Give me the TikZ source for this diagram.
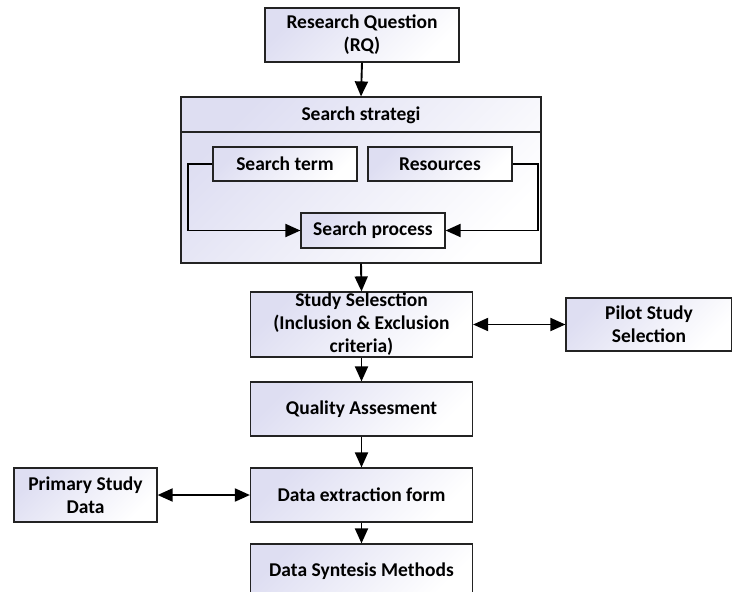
\documentclass[tikz,border=0pt]{standalone}
\usepackage{fontspec}
\setmainfont{Carlito}
\usetikzlibrary{arrows.meta}
\definecolor{lav}{RGB}{222,222,242}
\definecolor{edge}{RGB}{35,35,35}
\tikzset{
  box/.style={draw=edge, line width=1.2pt, top color=lav, bottom color=white, shading angle=45,
    inner sep=0pt, align=center, font=\fontsize{19.5}{23}\selectfont\bfseries},
  tip/.tip={Triangle[length=15pt,width=13pt]},
  arr/.style={draw=black, line width=1.9pt, -tip},
  darr/.style={draw=black, line width=1.9pt, tip-tip},
  lbl/.style={inner sep=0pt, align=center, font=\fontsize{19.5}{23}\selectfont\bfseries}
}
\begin{document}
\begin{tikzpicture}[x=1pt,y=-1pt]
\useasboundingbox (0,0) rectangle (732,592);
\fill[white] (0,0) rectangle (732,592);
% nodes
\node[box, minimum width=194pt, minimum height=54pt] (rq) at (362,35) {Research Question\\(RQ)};
\node[box, minimum width=360pt, minimum height=166pt] (outer) at (361,180) {};
\coordinate (dl) at (181,132);
\coordinate (dr) at (541,132);
\draw[draw=edge, line width=1.2pt] (dl) -- (dr);
\node[lbl] (title) at (361,115) {Search strategi};
\node[box, minimum width=144pt, minimum height=34pt] (term) at (285,164) {Search term};
\node[box, minimum width=144pt, minimum height=34pt] (res) at (440,164) {Resources};
\node[box, minimum width=144pt, minimum height=35pt] (proc) at (373,230.5) {Search process};
\node[box, minimum width=222pt, minimum height=65pt] (sel) at (361.5,324.5) {Study Selesction\\(Inclusion \& Exclusion\\criteria)};
\node[box, minimum width=166pt, minimum height=53pt] (pilot) at (649,324.5) {Pilot Study\\Selection};
\node[box, minimum width=222pt, minimum height=54pt] (qual) at (361.5,409) {Quality Assesment};
\node[box, minimum width=222pt, minimum height=54pt] (ext) at (361.5,495) {Data extraction form};
\node[box, minimum width=143pt, minimum height=54pt] (prim) at (85.5,495) {Primary Study\\Data};
\node[box, minimum width=222pt, minimum height=54pt] (syn) at (361.5,571) {Data Syntesis Methods};
% connectors
\draw[arr] (rq.south) -- (outer.north);
\draw[arr] (term.west) -- ++(-24,0) |- (proc.west);
\draw[arr] (res.east) -- ++(25,0) |- (proc.east);
\draw[arr] (outer.south) -- (sel.north);
\draw[darr] (sel.east) -- (pilot.west);
\draw[arr] (sel.south) -- (qual.north);
\draw[arr] (qual.south) -- (ext.north);
\draw[darr] (prim.east) -- (ext.west);
\draw[arr] (ext.south) -- (syn.north);
\end{tikzpicture}
\end{document}
